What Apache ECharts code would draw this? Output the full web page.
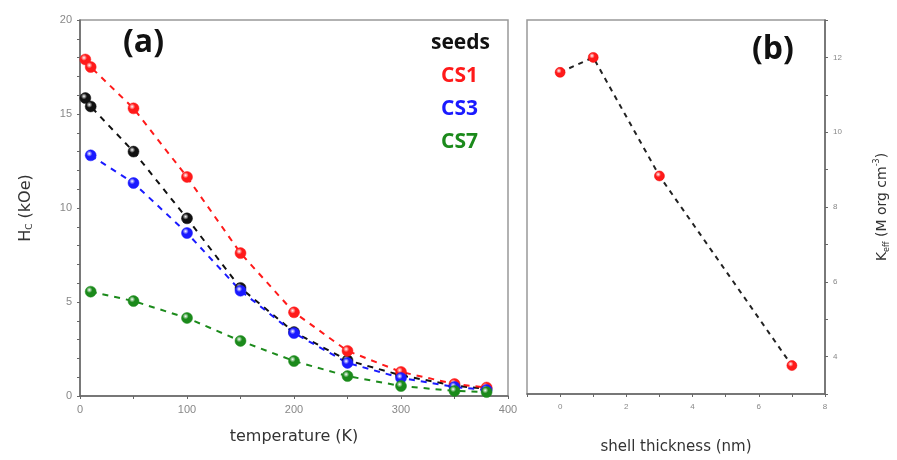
<!DOCTYPE html>
<html><head><meta charset="utf-8">
<script src="https://cdn.jsdelivr.net/npm/echarts@6/dist/echarts.min.js"></script>
<style>html,body{margin:0;padding:0;background:#fff}#c{width:897px;height:460px}</style>
</head><body><div id="c"></div>
<script>
// Panel (a): coercivity vs temperature
const tempRedBlack = [5, 10, 50, 100, 150, 200, 250, 300, 350, 380];
const tempBlueGreen = [10, 50, 100, 150, 200, 250, 300, 350, 380];
const hcCS1 = [17.9, 17.5, 15.3, 11.65, 7.6, 4.45, 2.4, 1.28, 0.64, 0.45];
const hcBlack = [15.85, 15.4, 13.0, 9.45, 5.75, 3.4, 1.9, 1.1, 0.55, 0.38];
const hcCS3 = [12.8, 11.33, 8.67, 5.6, 3.35, 1.76, 0.96, 0.48, 0.32];
const hcCS7 = [5.55, 5.05, 4.15, 2.93, 1.86, 1.06, 0.53, 0.27, 0.21];
// Panel (b): Keff vs shell thickness
const shell = [0, 1, 3, 7];
const keff = [11.6, 12.0, 8.83, 3.76];
const legendItems = ['seeds', 'CS1', 'CS3', 'CS7'];

const zip = (xs, ys) => xs.map((x, i) => [x, ys[i]]);
function ball(c) {
  return {type: 'radial', x: 0.38, y: 0.35, r: 0.75,
    colorStops: [{offset: 0, color: '#ffffff'}, {offset: 0.35, color: c}, {offset: 1, color: c}]};
}
function ser(name, data, col) {
  return {name, type: 'line', xAxisIndex: 0, yAxisIndex: 0, data,
    symbol: 'circle', symbolSize: 11,
    lineStyle: {color: col, width: 2, type: [6, 6]},
    itemStyle: {color: ball(col), borderColor: col, borderWidth: 0.5}};
}
const grey = '#666';
const chart = echarts.init(document.getElementById('c'));
chart.setOption({
  animation: false,
  grid: [
    {left: 80, top: 20, width: 428, height: 376, show: true, borderColor: '#999', borderWidth: 1.5},
    {left: 527, top: 20, width: 298, height: 376, show: true, borderColor: '#999', borderWidth: 1.5}
  ],
  xAxis: [
    {gridIndex: 0, type: 'value', min: 0, max: 400, interval: 50,
     name: 'temperature (K)', nameLocation: 'middle', nameGap: 33,
     nameTextStyle: {fontSize: 16, color: '#333', fontFamily: 'DejaVu Sans'},
     axisLine: {onZero: false, lineStyle: {color: grey, width: 1.5}},
     axisTick: {inside: false, length: 3, lineStyle: {color: grey}},
     axisLabel: {fontSize: 11, color: '#888', margin: 8, formatter: v => v % 100 === 0 ? v : ''},
     splitLine: {show: false}},
    {gridIndex: 1, type: 'value', min: -1, max: 8, interval: 1,
     name: 'shell thickness (nm)', nameLocation: 'middle', nameGap: 46,
     nameTextStyle: {fontSize: 15, color: '#333', fontFamily: 'DejaVu Sans'},
     axisLine: {onZero: false, lineStyle: {color: grey, width: 1.5}},
     axisTick: {length: 3, lineStyle: {color: grey}},
     axisLabel: {fontSize: 8, color: '#888', margin: 9, formatter: v => (v >= 0 && v % 2 === 0) ? v : ''},
     splitLine: {show: false}}
  ],
  yAxis: [
    {gridIndex: 0, type: 'value', min: 0, max: 20, interval: 1,
     name: '{n|H}{s|C}{n| (kOe)}', nameLocation: 'middle', nameGap: 46, nameRotate: 90,
     nameTextStyle: {rich: {n: {fontSize: 16, color: '#333', fontFamily: 'DejaVu Sans'},
                            s: {fontSize: 9, color: '#333', fontFamily: 'DejaVu Sans', verticalAlign: 'bottom', padding: [8, 0, 0, 0]}}},
     axisLine: {show: true, onZero: false, lineStyle: {color: grey, width: 1.5}},
     axisTick: {show: true, length: 3, lineStyle: {color: grey}},
     axisLabel: {fontSize: 11, color: '#888', margin: 8, formatter: v => v % 5 === 0 ? v : ''},
     splitLine: {show: false}},
    {gridIndex: 1, type: 'value', position: 'right', min: 3, max: 13, interval: 1,
     name: '{n|K}{s|eff}{n| (M org cm}{p|-3}{n|)}', nameLocation: 'middle', nameGap: 48, nameRotate: 90,
     nameTextStyle: {rich: {n: {fontSize: 14, color: '#333', fontFamily: 'DejaVu Sans'},
                            s: {fontSize: 8, color: '#333', fontFamily: 'DejaVu Sans', padding: [10, 0, 0, 0]},
                            p: {fontSize: 8, color: '#333', fontFamily: 'DejaVu Sans', padding: [0, 0, 10, 0]}}},
     axisLine: {show: true, onZero: false, lineStyle: {color: grey, width: 1.5}},
     axisTick: {show: true, length: 3, lineStyle: {color: grey}},
     axisLabel: {fontSize: 8, color: '#888', margin: 8, formatter: v => v % 2 === 0 ? v : ''},
     splitLine: {show: false}}
  ],
  series: [
    ser('black', zip(tempRedBlack, hcBlack), '#111111'),
    ser('CS1', zip(tempRedBlack, hcCS1), '#ff1a1a'),
    ser('CS3', zip(tempBlueGreen, hcCS3), '#1a1aff'),
    ser('CS7', zip(tempBlueGreen, hcCS7), '#1b8a1b'),
    {name: 'Keff', type: 'line', xAxisIndex: 1, yAxisIndex: 1, data: zip(shell, keff),
     symbol: 'circle', symbolSize: 10,
     lineStyle: {color: '#222', width: 2, type: [5, 5]},
     itemStyle: {color: ball('#ff1a1a'), borderColor: '#e00', borderWidth: 0.5}}
  ],
  graphic: [
    {type: 'text', left: 123, top: 27, style: {text: '(a)', fontSize: 32, fontWeight: 'bold', fill: '#111', fontFamily: 'Open Sans'}},
    {type: 'text', left: 752, top: 34, style: {text: '(b)', fontSize: 32, fontWeight: 'bold', fill: '#111', fontFamily: 'Open Sans'}},
    {type: 'text', right: 897 - 490, top: 33, style: {text: legendItems[0], fontSize: 21, fontWeight: 'bold', fill: '#111', fontFamily: 'Open Sans', align: 'right'}},
    {type: 'text', right: 897 - 478, top: 66, style: {text: legendItems[1], fontSize: 21, fontWeight: 'bold', fill: '#ff1a1a', fontFamily: 'Open Sans', align: 'right'}},
    {type: 'text', right: 897 - 478, top: 99, style: {text: legendItems[2], fontSize: 21, fontWeight: 'bold', fill: '#1a1aff', fontFamily: 'Open Sans', align: 'right'}},
    {type: 'text', right: 897 - 478, top: 132, style: {text: legendItems[3], fontSize: 21, fontWeight: 'bold', fill: '#1b8a1b', fontFamily: 'Open Sans', align: 'right'}}
  ]
});
</script></body></html>
